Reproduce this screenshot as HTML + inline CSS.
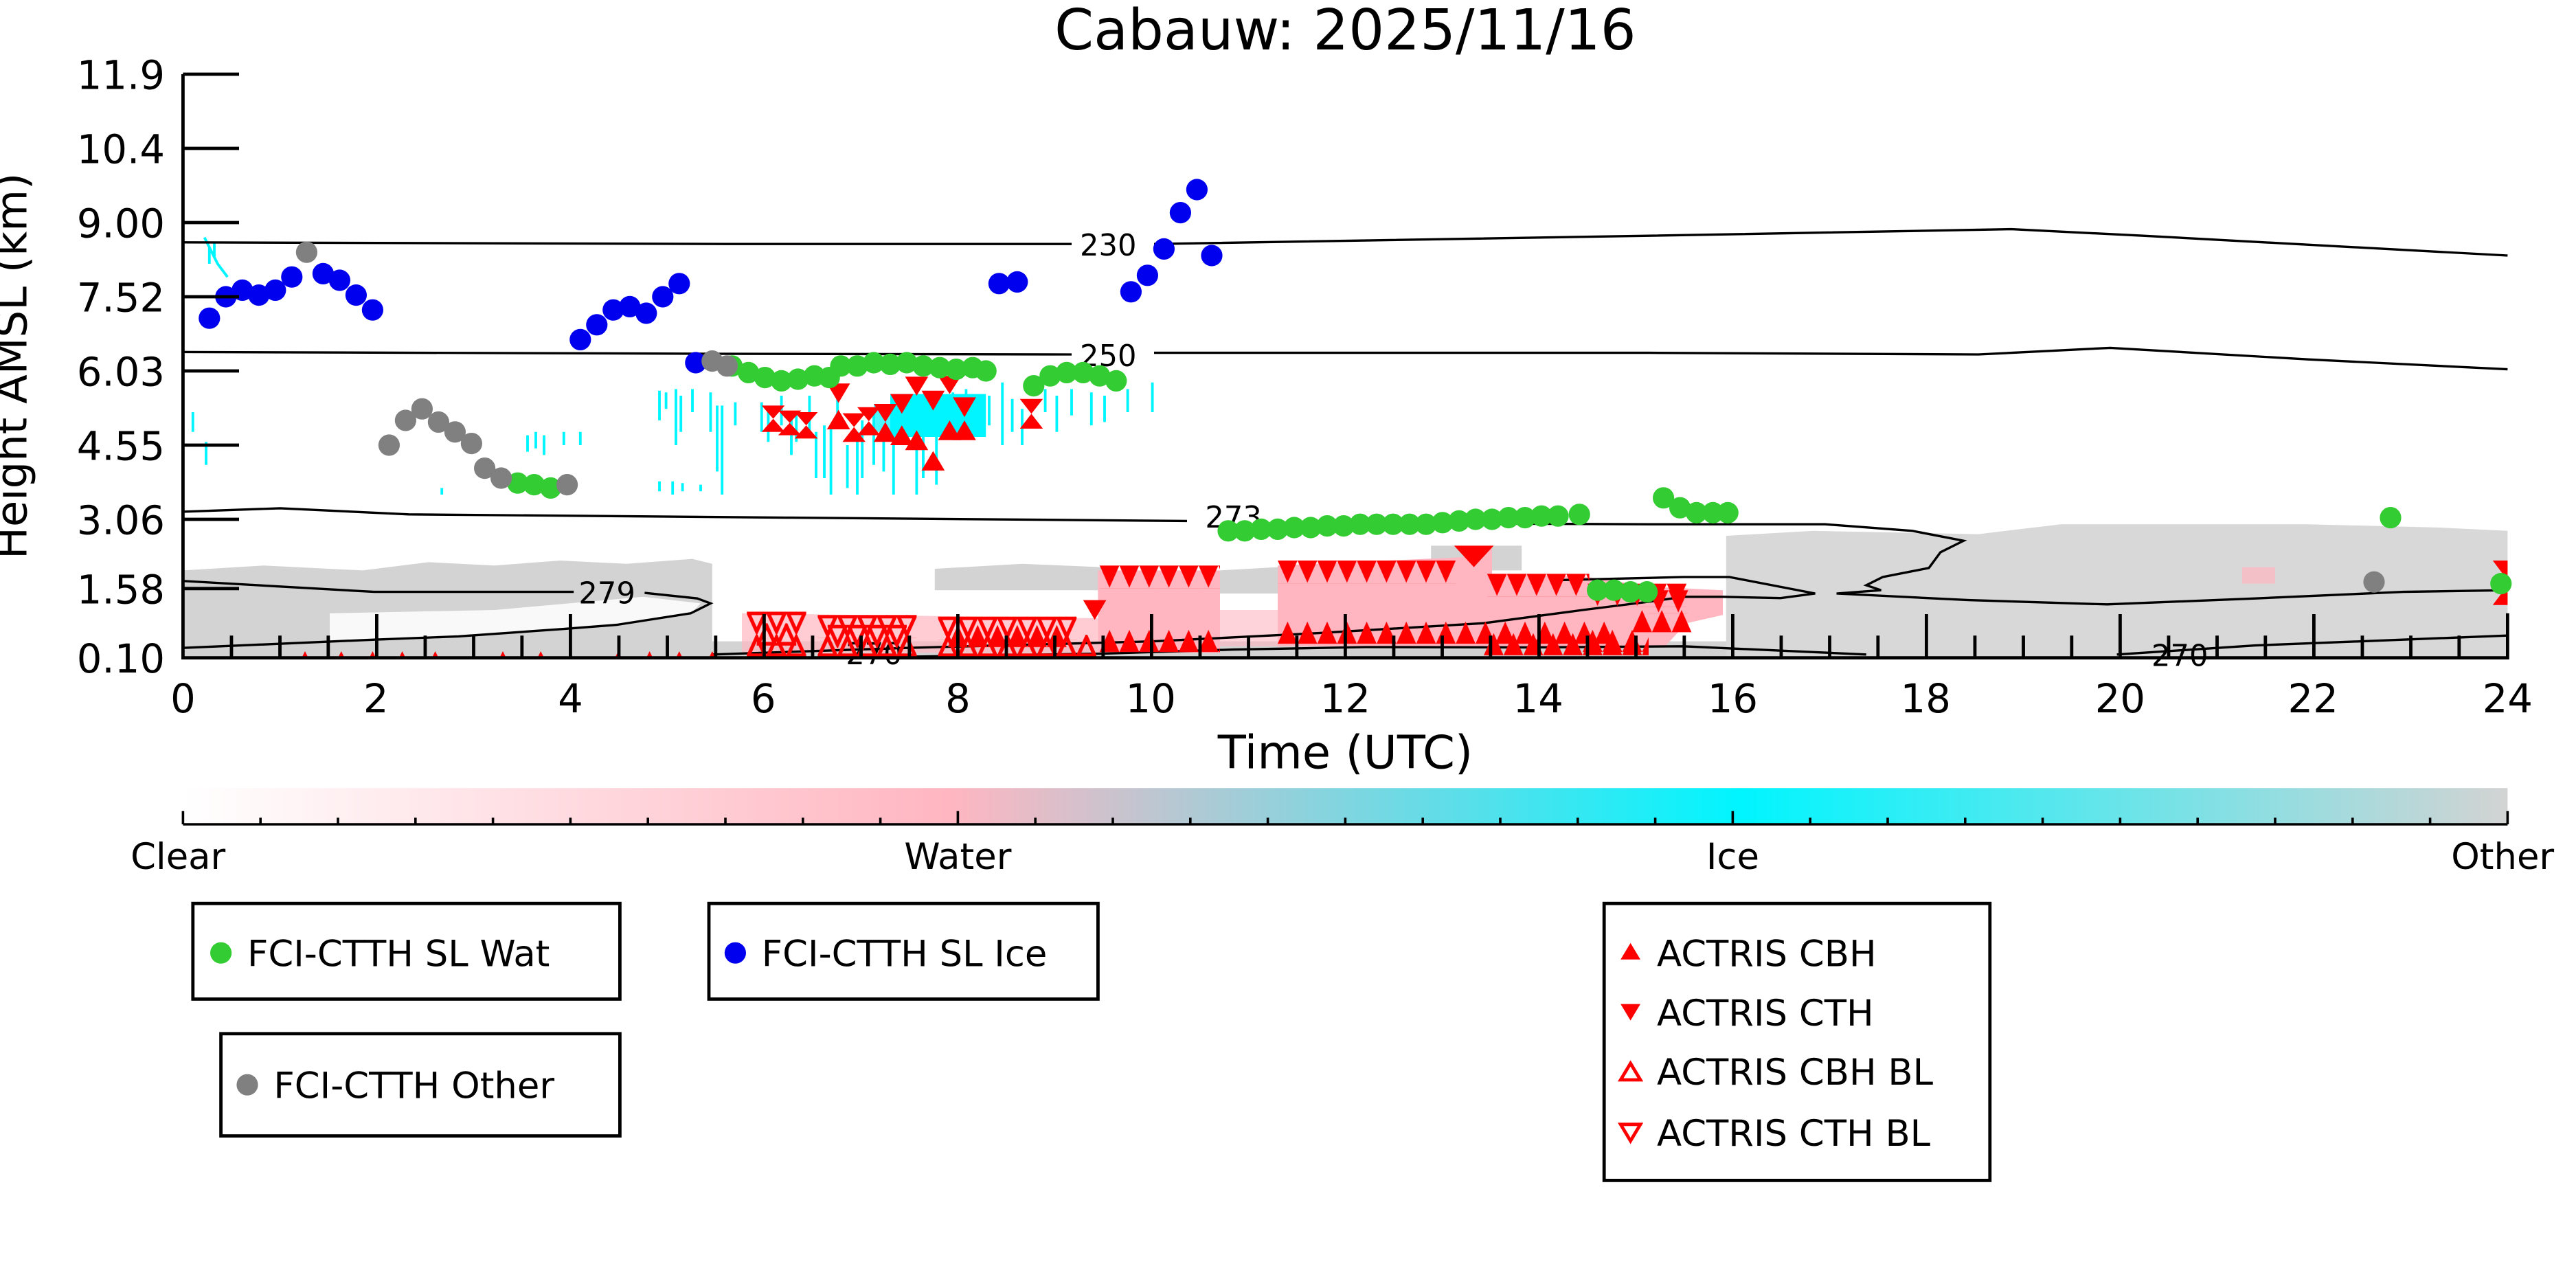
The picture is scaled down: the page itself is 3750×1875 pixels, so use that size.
<!DOCTYPE html>
<html><head><meta charset="utf-8"><style>html,body{margin:0;padding:0;background:#fff}svg{display:block}</style></head><body>
<svg width="3750" height="1875" viewBox="0 0 1562.5 781.25" xmlns="http://www.w3.org/2000/svg" font-family="DejaVu Sans, Liberation Sans, sans-serif">
<defs>
<linearGradient id="cb" x1="0" x2="1" y1="0" y2="0">
<stop offset="0" stop-color="#fff"/><stop offset="0.33" stop-color="#ffb6c1"/><stop offset="0.67" stop-color="#00f5ff"/><stop offset="1" stop-color="#d3d3d3"/>
</linearGradient>
<pattern id="up" x="0" y="0" width="12" height="14" patternUnits="userSpaceOnUse"><polygon points="0,13.5 6,0 12,13.5" fill="red"/></pattern>
<pattern id="dn" x="0" y="0" width="12" height="14" patternUnits="userSpaceOnUse"><polygon points="0,0 12,0 6,13.5" fill="red"/></pattern>
<pattern id="upo" x="0" y="0" width="12" height="14" patternUnits="userSpaceOnUse"><polygon points="1,12.5 6,1.5 11,12.5" fill="none" stroke="red" stroke-width="2.2"/></pattern>
<pattern id="dno" x="0" y="0" width="12" height="14" patternUnits="userSpaceOnUse"><polygon points="1,1 11,1 6,12" fill="none" stroke="red" stroke-width="2.2"/></pattern>
</defs>
<text x="816" y="30" font-size="34" text-anchor="middle">Cabauw: 2025/11/16</text>

<!-- gray regions -->
<g fill="#d3d3d3">
<path d="M111,346 L160,343 L220,346 L260,341 L300,343 L340,340 L380,342 L420,339 L432,342 L432,399 L111,399 Z"/>
<path d="M567,345 L620,342 L668,344 L668,358 L567,358 Z"/>
<path d="M740,346 L775,344 L775,360 L740,360 Z"/>
<path d="M868,331 L923,331 L923,346 L868,346 Z"/>
<path d="M432,389 L1054,389 L1054,399 L432,399 Z"/>
</g>
<path d="M1047,325 L1100,322 L1200,324 L1250,318 L1400,318 L1480,320 L1521,322 L1521,399 L1047,399 Z" fill="#d8d8d8"/>
<path d="M200,372 L300,370 L390,362 L425,366 L419,372 L374,379 L342,381.5 L278,386 L227,388 L200,388.5 Z" fill="#fff" opacity="0.85"/>

<!-- pink -->
<g fill="#ffb6c1">
<path d="M450,372 L666,375 L666,396 L450,396 Z" opacity="0.7"/>
<path d="M666,346 L740,346 L740,396 L666,396 Z"/>
<path d="M740,370 L775,370 L775,392 L740,392 Z" opacity="0.6"/>
<path d="M775,343 L886,338 L905,332 L905,348 L963,350 L1003,356 L1045,358 L1045,373 L1023,378 L1010,392 L775,392 Z"/>
<path d="M1360,344 L1380,344 L1380,354 L1360,354 Z" opacity="0.7"/>
</g>

<!-- cyan streaks -->
<g stroke="#00f5ff" stroke-width="1.6" fill="none">
<path d="M124,144 L132,160 L138,168 M127,150 V160 M130,147 V156 M117,250 V262 M125,268 V282"/>
<path d="M268,296 V300 M320,264 V274 M325,262 V272 M330,264 V276 M342,262 V270 M352,262 V270 M400,292 V298 M408,292 V300 M414,293 V298 M425,294 V298"/>
<path d="M400,237 V255 M404,238 V248 M410,236 V270 M413,240 V262 M420,236 V250 M431,238 V262 M435,246 V286 M438,246 V300 M446,244 V258 M462,244 V262 M466,250 V268 M474,240 V258 M480,252 V276 M483,250 V268 M491,240 V262 M495,262 V290 M500,258 V290 M504,260 V300 M508,240 V256 M514,270 V296 M520,262 V300 M523,255 V290 M530,250 V282 M536,266 V286 M542,260 V300 M548,244 V268 M556,262 V300 M560,260 V290 M568,262 V294 M578,238 V256 M586,236 V258 M590,240 V262 M600,240 V258 M608,232 V270 M614,242 V262 M620,248 V270 M634,236 V250 M641,240 V262 M650,236 V252 M662,238 V258 M670,240 V256 M684,236 V250 M699,232 V250"/>
<path d="M540,239 L598,239 L598,265 L540,265 Z" fill="#00f5ff" stroke="none"/>
<path d="M530,245 L540,245 L540,262 L530,262 Z" fill="#00f5ff" stroke="none" opacity="0.7"/>
</g>

<!-- contours -->
<g fill="none" stroke="#000" stroke-width="1.4">
<path d="M111,147 L440,148 L650,148 M700,148 L1000,143 L1220,139 L1300,143 L1521,155"/>
<path d="M111,213.5 L440,214.6 L650,215 M700,214 L1000,214 L1200,215 L1280,211 L1400,218 L1521,224"/>
<path d="M111,310.4 L170,308.3 L248,312 L480,314 L720,316 M775,317 L1000,318 L1107,318 L1160,322 L1191,328 L1177,335 L1170,344.5 L1142,350 L1132,355 L1141,358 L1114,360 L1194,364 L1278,366.6 L1368,363 L1458,359 L1521,358"/>
<path d="M111,352.4 L227,359 L348,359 M391,359.6 L423,363 L431,366 L419,372 L374,379 L342,381.5 L278,386 L227,388 L111,393"/>
<path d="M940,352 L1021,350 L1049,350 L1101,360 L1080,362.8 L1045,362 L1021,362 L1000,365 L960,370 L900,378 L800,384 L700,389 L550,393 L432,397"/>
<path d="M553,398.3 L668,396.5 L748,394 L828,392.5 L927.6,392.7 L1021,392 L1132,397 M1284,397 L1368,391.5 L1521,385.5"/>
</g>
<g font-size="18"><rect x="652" y="138" width="44" height="20" fill="#fff"/><text x="655" y="155">230</text>
<rect x="652" y="205" width="44" height="20" fill="#fff"/><text x="655" y="222">250</text>
<rect x="728" y="303" width="44" height="20" fill="#fff"/><text x="731" y="320">273</text>
<text x="351" y="366">279</text>
<text x="513" y="403">270</text><text x="1305" y="404">270</text></g>

<!-- red triangle bands -->
<g>
<g transform="translate(667,343)"><rect width="73" height="14" fill="url(#dn)"/></g>
<g transform="translate(775,340)"><rect width="108" height="14" fill="url(#dn)"/></g>
<polygon points="882,331 906,331 894,344" fill="red"/>
<g transform="translate(902,348)"><rect width="62" height="14" fill="url(#dn)"/></g>
<g transform="translate(963,354)"><rect width="60" height="14" fill="url(#dn)"/></g>
<polygon points="657,364 671,364 664,376" fill="red"/>
<g transform="translate(667,382)"><rect width="73" height="14" fill="url(#up)"/></g>
<g transform="translate(775,377)"><rect width="205" height="14" fill="url(#up)"/></g>
<g transform="translate(900,384)"><rect width="100" height="14" fill="url(#up)"/></g>
<g transform="translate(990,370)"><rect width="36" height="14" fill="url(#up)"/></g>
<g transform="translate(1000,358)"><rect width="24" height="14" fill="url(#dn)"/></g>
<g transform="translate(960,382)"><rect width="40" height="14" fill="url(#up)"/></g>
<!-- BL open clusters -->
<g transform="translate(453,371)"><rect width="36" height="14" fill="url(#dno)"/></g>
<g transform="translate(453,385)"><rect width="36" height="14" fill="url(#upo)"/></g>
<g transform="translate(459,378)"><rect width="24" height="14" fill="url(#upo)"/></g>
<g transform="translate(496,373)"><rect width="60" height="14" fill="url(#dno)"/></g>
<g transform="translate(496,385)"><rect width="60" height="14" fill="url(#upo)"/></g>
<g transform="translate(502,379)"><rect width="48" height="14" fill="url(#dno)"/></g>
<g transform="translate(569,374)"><rect width="84" height="14" fill="url(#dno)"/></g>
<g transform="translate(569,385)"><rect width="96" height="14" fill="url(#upo)"/></g>
<g transform="translate(575,379)"><rect width="72" height="14" fill="url(#up)"/></g>
<!-- tiny bottom triangles left -->
<g fill="red"><polygon points="183,399 187,399 185,395"/><polygon points="205,399 209,399 207,395"/><polygon points="224,399 228,399 226,395"/><polygon points="242,399 246,399 244,395"/><polygon points="262,399 266,399 264,395"/><polygon points="303,399 307,399 305,395"/><polygon points="326,399 330,399 328,395"/><polygon points="373,399 377,399 375,395"/><polygon points="392,399 396,399 394,395"/><polygon points="410,399 414,399 412,395"/><polygon points="430,399 434,399 432,395"/></g>
<!-- mid-level hourglasses -->
<g fill="red">
<polygon points="462,246 476,246 469,254"/><polygon points="462,262 476,262 469,254"/>
<polygon points="472,249 486,249 479,256.5"/><polygon points="472,264 486,264 479,256.5"/>
<polygon points="482,250 496,250 489,258"/><polygon points="482,266 496,266 489,258"/>
<polygon points="501.6,232.6 515.6,232.6 508.6,244.4"/><polygon points="501.6,260.4 515.6,260.4 508.6,248.6"/>
<polygon points="511,250.7 525,250.7 518,259"/><polygon points="511,268 525,268 518,259"/>
<polygon points="520,247 534,247 527,255.5"/><polygon points="520,264 534,264 527,255.5"/>
<polygon points="530,245 544,245 537,256"/><polygon points="530,268 544,268 537,256"/>
<polygon points="540,239 554,239 547,251"/><polygon points="540,270 554,270 547,258"/>
<polygon points="549,228.5 563,228.5 556,240"/><polygon points="549,273 563,273 556,261"/>
<polygon points="559,237 573,237 566,249"/><polygon points="559,285.4 573,285.4 566,273.6"/>
<polygon points="569,228 583,228 576,239"/><polygon points="569,267 583,267 576,255"/>
<polygon points="578,241 592,241 585,253"/><polygon points="578,267 592,267 585,255"/>
<polygon points="618.6,242 632.6,242 625.6,251"/><polygon points="618.6,260 632.6,260 625.6,251"/>
<polygon points="1512,340 1521,340 1521,352"/><polygon points="1512,367 1521,367 1521,355"/>
</g>
</g>

<!-- dots -->
<g fill="#33cc33">
<circle cx="444" cy="222" r="6.5"/><circle cx="454" cy="226" r="6.5"/><circle cx="464" cy="229" r="6.5"/><circle cx="474" cy="231" r="6.5"/><circle cx="484" cy="230" r="6.5"/><circle cx="494" cy="228" r="6.5"/><circle cx="503" cy="229" r="6.5"/><circle cx="510" cy="222" r="6.5"/><circle cx="520" cy="222" r="6.5"/><circle cx="530" cy="220" r="6.5"/><circle cx="540" cy="221" r="6.5"/><circle cx="550" cy="220" r="6.5"/><circle cx="560" cy="222" r="6.5"/><circle cx="570" cy="223" r="6.5"/><circle cx="580" cy="224" r="6.5"/><circle cx="590" cy="223" r="6.5"/><circle cx="598" cy="225" r="6.5"/>
<circle cx="627" cy="234" r="6.5"/><circle cx="637" cy="228" r="6.5"/><circle cx="647" cy="226" r="6.5"/><circle cx="657" cy="226" r="6.5"/><circle cx="667" cy="228" r="6.5"/><circle cx="677" cy="231" r="6.5"/>
<circle cx="745" cy="322" r="6.5"/><circle cx="755" cy="322" r="6.5"/><circle cx="765" cy="321" r="6.5"/><circle cx="775" cy="321" r="6.5"/><circle cx="785" cy="320" r="6.5"/><circle cx="795" cy="320" r="6.5"/><circle cx="805" cy="319" r="6.5"/><circle cx="815" cy="319" r="6.5"/><circle cx="825" cy="318" r="6.5"/><circle cx="835" cy="318" r="6.5"/><circle cx="845" cy="318" r="6.5"/><circle cx="855" cy="318" r="6.5"/><circle cx="865" cy="318" r="6.5"/><circle cx="875" cy="317" r="6.5"/><circle cx="885" cy="316" r="6.5"/><circle cx="895" cy="315" r="6.5"/><circle cx="905" cy="315" r="6.5"/><circle cx="915" cy="314" r="6.5"/><circle cx="925" cy="314" r="6.5"/><circle cx="935" cy="313" r="6.5"/><circle cx="945" cy="313" r="6.5"/><circle cx="958" cy="312" r="6.5"/>
<circle cx="314" cy="293" r="6.5"/><circle cx="324" cy="294" r="6.5"/><circle cx="334" cy="296" r="6.5"/>
<circle cx="1009" cy="302" r="6.5"/><circle cx="1019" cy="308" r="6.5"/><circle cx="1029" cy="311" r="6.5"/><circle cx="1039" cy="311" r="6.5"/><circle cx="1048" cy="311" r="6.5"/>
<circle cx="969" cy="358" r="6.5"/><circle cx="979" cy="358" r="6.5"/><circle cx="989" cy="359" r="6.5"/><circle cx="999" cy="359" r="6.5"/>
<circle cx="1450" cy="314" r="6.5"/><circle cx="1517" cy="354" r="6.5"/>
</g>
<g fill="#0000ee">
<circle cx="127" cy="193" r="6.5"/><circle cx="137" cy="180" r="6.5"/><circle cx="147" cy="176" r="6.5"/><circle cx="157" cy="179" r="6.5"/><circle cx="167" cy="176" r="6.5"/><circle cx="177" cy="168" r="6.5"/><circle cx="196" cy="166" r="6.5"/><circle cx="206" cy="170" r="6.5"/><circle cx="216" cy="179" r="6.5"/><circle cx="226" cy="188" r="6.5"/>
<circle cx="352" cy="206" r="6.5"/><circle cx="362" cy="197" r="6.5"/><circle cx="372" cy="188" r="6.5"/><circle cx="382" cy="186" r="6.5"/><circle cx="392" cy="190" r="6.5"/><circle cx="402" cy="180" r="6.5"/><circle cx="412" cy="172" r="6.5"/><circle cx="422" cy="220" r="6.5"/>
<circle cx="606" cy="172" r="6.5"/><circle cx="617" cy="171" r="6.5"/><circle cx="686" cy="177" r="6.5"/><circle cx="696" cy="167" r="6.5"/><circle cx="706" cy="151" r="6.5"/><circle cx="716" cy="129" r="6.5"/><circle cx="726" cy="115" r="6.5"/><circle cx="735" cy="155" r="6.5"/>
</g>
<g fill="#808080">
<circle cx="186" cy="153" r="6.5"/><circle cx="236" cy="270" r="6.5"/><circle cx="246" cy="255" r="6.5"/><circle cx="256" cy="248" r="6.5"/><circle cx="266" cy="256" r="6.5"/><circle cx="276" cy="262" r="6.5"/><circle cx="286" cy="269" r="6.5"/><circle cx="294" cy="284" r="6.5"/><circle cx="304" cy="290" r="6.5"/><circle cx="344" cy="294" r="6.5"/><circle cx="432" cy="219" r="6.5"/><circle cx="441" cy="222" r="6.5"/><circle cx="1440" cy="353" r="6.5"/>
</g>

<!-- axes -->
<g stroke="#000" stroke-width="2" fill="none">
<path d="M111,45V399H1521V372"/>
<path d="M111,45H145M111,90H145M111,135H145M111,180H145M111,225H145M111,270H145M111,315H145M111,357H145"/>
<path d="M228.5,399V372.5M346,399V372.5M463.5,399V372.5M581,399V372.5M698.5,399V372.5M816,399V372.5M933.5,399V372.5M1051,399V372.5M1168.5,399V372.5M1286,399V372.5M1403.5,399V372.5"/>
<path d="M140.4,399V385.5M169.8,399V385.5M199.1,399V385.5M257.9,399V385.5M287.3,399V385.5M316.6,399V385.5M375.4,399V385.5M404.8,399V385.5M434.1,399V385.5M492.9,399V385.5M522.3,399V385.5M551.6,399V385.5M610.4,399V385.5M639.8,399V385.5M669.1,399V385.5M727.9,399V385.5M757.3,399V385.5M786.6,399V385.5M845.4,399V385.5M874.8,399V385.5M904.1,399V385.5M962.9,399V385.5M992.3,399V385.5M1021.6,399V385.5M1080.4,399V385.5M1109.8,399V385.5M1139.1,399V385.5M1197.9,399V385.5M1227.3,399V385.5M1256.6,399V385.5M1315.4,399V385.5M1344.8,399V385.5M1374.1,399V385.5M1432.9,399V385.5M1462.3,399V385.5M1491.6,399V385.5"/>
</g>
<g font-size="24" text-anchor="end">
<text x="100" y="54">11.9</text><text x="100" y="99">10.4</text><text x="100" y="144">9.00</text><text x="100" y="189">7.52</text><text x="100" y="234">6.03</text><text x="100" y="279">4.55</text><text x="100" y="324">3.06</text><text x="100" y="366">1.58</text><text x="100" y="408">0.10</text>
</g>
<g font-size="24" text-anchor="middle">
<text x="111" y="432">0</text><text x="228" y="432">2</text><text x="346" y="432">4</text><text x="463" y="432">6</text><text x="581" y="432">8</text><text x="698" y="432">10</text><text x="816" y="432">12</text><text x="933" y="432">14</text><text x="1051" y="432">16</text><text x="1168" y="432">18</text><text x="1286" y="432">20</text><text x="1403" y="432">22</text><text x="1521" y="432">24</text>
<text x="816" y="466" font-size="28">Time (UTC)</text>
<text transform="translate(16,222) rotate(-90)" font-size="26">Height AMSL (km)</text>
</g>
<!-- colorbar -->
<rect x="111" y="478" width="1410" height="22" fill="url(#cb)"/>
<g stroke="#000" stroke-width="1.5"><path d="M111,500H1521"/>
<path d="M111,492V500M581,492V500M1051,492V500M1521,492V500"/>
<path d="M158,496V500M205,496V500M252,496V500M299,496V500M346,496V500M393,496V500M440,496V500M487,496V500M534,496V500M628,496V500M675,496V500M722,496V500M769,496V500M816,496V500M863,496V500M910,496V500M957,496V500M1004,496V500M1098,496V500M1145,496V500M1192,496V500M1239,496V500M1286,496V500M1333,496V500M1380,496V500M1427,496V500M1474,496V500"/></g>
<g font-size="22" text-anchor="middle"><text x="108" y="527">Clear</text><text x="581" y="527">Water</text><text x="1051" y="527">Ice</text><text x="1518" y="527">Other</text></g>
<!-- legends -->
<g fill="none" stroke="#000" stroke-width="2">
<rect x="117" y="548" width="259" height="58"/><rect x="430" y="548" width="236" height="58"/><rect x="134" y="627" width="242" height="62"/><rect x="973" y="548" width="234" height="168"/>
</g>
<g font-size="22">
<circle cx="134" cy="578" r="6.5" fill="#33cc33"/><text x="150" y="586">FCI-CTTH SL Wat</text>
<circle cx="446" cy="578" r="6.5" fill="#0000ee"/><text x="462" y="586">FCI-CTTH SL Ice</text>
<circle cx="150" cy="658" r="6.5" fill="#808080"/><text x="166" y="666">FCI-CTTH Other</text>
<polygon points="989,572 995,582 983,582" fill="red"/><text x="1005" y="586">ACTRIS CBH</text>
<polygon points="983,609 995,609 989,619" fill="red"/><text x="1005" y="622">ACTRIS CTH</text>
<polygon points="989,645 995,655 983,655" fill="none" stroke="red" stroke-width="2"/><text x="1005" y="658">ACTRIS CBH BL</text>
<polygon points="983,682 995,682 989,692" fill="none" stroke="red" stroke-width="2"/><text x="1005" y="695">ACTRIS CTH BL</text>
</g>
</svg>
</body></html>
